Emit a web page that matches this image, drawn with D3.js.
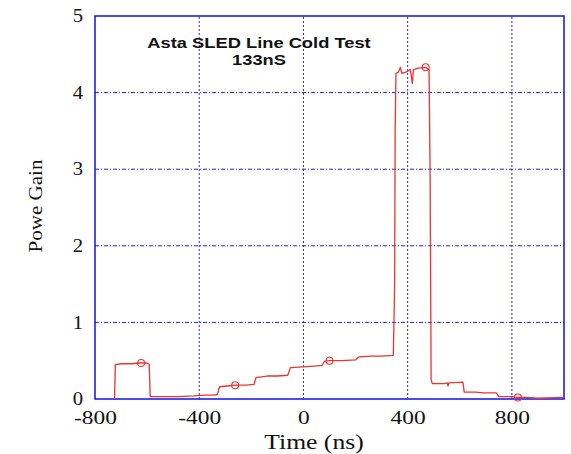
<!DOCTYPE html>
<html>
<head>
<meta charset="utf-8">
<script src="https://cdn.jsdelivr.net/npm/d3@7"></script>
<style>
  body { margin: 0; background: #fff; }
  svg { display: block; }
</style>
</head>
<body>
<svg id="chart" width="571" height="454"></svg>
<script>
// trace
const timeNs = [-725, -722, -700, -660, -630, -600, -592, -588, -540, -480, -420, -380, -340, -330, -322,
  -290, -262, -220, -190, -182, -140, -100, -60, -50, 0, 40, 72, 80, 100, 150, 200, 212, 260, 300,
  345, 350, 352, 355, 365, 372, 378, 395, 410, 418, 422, 440, 469, 482, 486, 490, 495, 540, 552,
  555, 558, 612, 617, 660, 690, 740, 750, 800, 823, 860, 900, 1000];
const gain = [0, 0.45, 0.46, 0.46, 0.47, 0.47, 0.45, 0.03, 0.03, 0.03, 0.04, 0.05, 0.05, 0.06, 0.16,
  0.17, 0.18, 0.18, 0.19, 0.28, 0.30, 0.30, 0.31, 0.41, 0.42, 0.43, 0.44, 0.49, 0.50, 0.50, 0.51, 0.55, 0.56, 0.56,
  0.57, 1.5, 3.5, 4.25, 4.27, 4.33, 4.25, 4.27, 4.30, 4.12, 4.30, 4.32, 4.33, 4.30, 3.0, 0.25, 0.20, 0.20, 0.21,
  0.17, 0.21, 0.22, 0.09, 0.09, 0.08, 0.08, 0.03, 0.03, 0.02, 0.02, 0.01, 0.02];
const markerTime = [-623, -262, 100, 469, 823];
const markerGain = [0.47, 0.18, 0.50, 4.33, 0.02];
const xTicks = [-800, -400, 0, 400, 800];
const yTicks = [0, 1, 2, 3, 4, 5];
const titleLines = ["Asta SLED Line Cold Test", "133nS"];

const svg = d3.select("#chart");
const x = d3.scaleLinear().domain([-800, 1000]).range([95, 564]);
const y = d3.scaleLinear().domain([0, 5]).range([399, 16]);
const blue = "#1f1ff0";

// stretch text horizontally like the scanned figure
function stretch(sel, k) {
    sel.each(function () {
        const w = this.getComputedTextLength();
        d3.select(this).attr("textLength", w * k).attr("lengthAdjust", "spacingAndGlyphs");
    });
}

// grid
svg.append("g").selectAll("line")
    .data(yTicks.slice(1, -1))
    .enter().append("line")
    .attr("x1", x(-800)).attr("x2", x(1000))
    .attr("y1", d => y(d)).attr("y2", d => y(d))
    .attr("stroke", blue).attr("stroke-width", 1)
    .attr("stroke-dasharray", "4,2,1,2");

svg.append("g").selectAll("line")
    .data(xTicks.slice(1))
    .enter().append("line")
    .attr("x1", d => x(d)).attr("x2", d => x(d))
    .attr("y1", y(0)).attr("y2", y(5))
    .attr("stroke", blue).attr("stroke-width", 1)
    .attr("stroke-dasharray", "2,2");

// frame
svg.append("rect")
    .attr("x", x(-800)).attr("y", y(5))
    .attr("width", x(1000) - x(-800)).attr("height", y(0) - y(5))
    .attr("fill", "none").attr("stroke", blue).attr("stroke-width", 1.6);

// axes
const xAxis = svg.append("g")
    .attr("transform", `translate(0, ${y(0)})`)
    .call(d3.axisBottom(x).tickValues(xTicks).tickSize(0).tickPadding(12).tickFormat(d => String(d)));
xAxis.select(".domain").remove();
xAxis.selectAll("text")
    .attr("font-family", "'Liberation Serif', 'Times New Roman', serif")
    .attr("font-size", 18).attr("fill", "#111")
    .call(stretch, 1.3);

const yAxis = svg.append("g")
    .attr("transform", `translate(${x(-800)}, 0)`)
    .call(d3.axisLeft(y).tickValues(yTicks).tickSize(0).tickPadding(12).tickFormat(d => String(d)));
yAxis.select(".domain").remove();
yAxis.selectAll("text")
    .attr("font-family", "'Liberation Serif', 'Times New Roman', serif")
    .attr("font-size", 18).attr("fill", "#111")
    .call(stretch, 1.15);

// axis titles
svg.append("text")
    .attr("x", 314).attr("y", 449)
    .attr("text-anchor", "middle")
    .attr("font-family", "'Liberation Serif', 'Times New Roman', serif")
    .attr("font-size", 20).attr("fill", "#111")
    .text("Time (ns)")
    .call(stretch, 1.28);

svg.append("text")
    .attr("transform", "translate(42, 206) rotate(-90)")
    .attr("text-anchor", "middle")
    .attr("font-family", "'Liberation Serif', 'Times New Roman', serif")
    .attr("font-size", 18).attr("fill", "#111")
    .text("Powe Gain")
    .call(stretch, 1.17);

// chart title
svg.append("g").selectAll("text")
    .data(titleLines)
    .enter().append("text")
    .attr("x", 259).attr("y", (d, i) => 48 + i * 17)
    .attr("text-anchor", "middle")
    .attr("font-family", "'Liberation Sans', Arial, sans-serif")
    .attr("font-weight", "bold").attr("font-size", 15).attr("fill", "#111")
    .text(d => d)
    .call(stretch, 1.22);

// trace
const pts = timeNs.map((t, i) => [t, gain[i]]);
const line = d3.line().x(d => x(d[0])).y(d => y(d[1]));

svg.append("path")
    .datum(pts)
    .attr("d", line)
    .attr("fill", "none")
    .attr("stroke", "#e8352e")
    .attr("stroke-width", 1.3)
    .attr("stroke-linejoin", "round");

svg.append("g").selectAll("circle")
    .data(markerTime)
    .enter().append("circle")
    .attr("cx", d => x(d))
    .attr("cy", (d, i) => y(markerGain[i]))
    .attr("r", 3.5)
    .attr("fill", "none")
    .attr("stroke", "#e8352e")
    .attr("stroke-width", 1.1);
</script>
</body>
</html>
